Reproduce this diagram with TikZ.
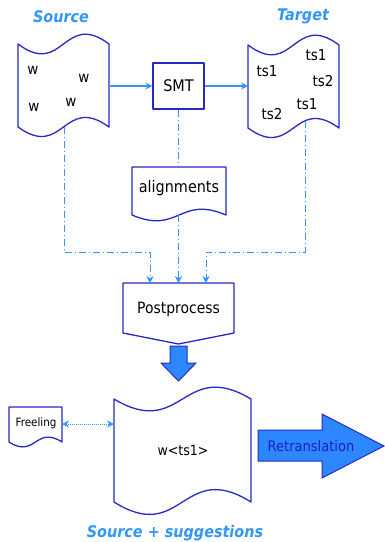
\documentclass[tikz,border=0pt]{standalone}
\usepackage{fontspec}
\setmainfont{DejaVu Sans}[FakeStretch=0.9]
\usetikzlibrary{arrows.meta}
\definecolor{outl}{RGB}{40,40,195}
\definecolor{connblue}{RGB}{51,150,250}
\definecolor{titleblue}{RGB}{51,150,250}
\definecolor{arrowfill}{RGB}{45,135,255}
\definecolor{rettext}{RGB}{30,30,200}
\tikzset{
  shapeline/.style={draw=outl, line width=1.3pt, fill=white, line join=round},
  conn/.style={draw=connblue, line width=0.9pt, dash pattern=on 7pt off 3pt on 1pt off 3pt},
  tip/.style={-{Stealth[length=7pt,width=7pt]}},
  title/.style={text=titleblue, font=\fontsize{16}{18}\selectfont\bfseries\itshape, inner sep=0pt},
  lbl/.style={font=\fontsize{#1}{#1}\selectfont, inner sep=0pt, text=black},
  bigarrow/.style={draw=outl, line width=1pt, fill=arrowfill, line join=miter},
}
\begin{document}
\begin{tikzpicture}[x=1pt,y=-1pt]
\useasboundingbox (0,0) rectangle (385,542);
% titles
\node[title] (tsrc) at (61,17) {Source};
\node[title] (ttgt) at (303,16) {Target};
\node[title] (tsug) at (175,533) {Source + suggestions};
% source document
\path[shapeline] (18,44) .. controls (63.5,78) and (63.5,10) .. (109,44) -- (109,127)
  .. controls (63.5,94) and (63.5,160) .. (18,127) -- cycle;
\node[lbl=15] (w1) at (33,70) {w};
\node[lbl=15] (w2) at (84,78) {w};
\node[lbl=15] (w3) at (34,107) {w};
\node[lbl=15] (w4) at (71,102) {w};
\coordinate (srcR) at (109,86);
\coordinate (srcB) at (64,127);
% target document
\path[shapeline] (248,45) .. controls (293.5,79) and (293.5,11) .. (339,45) -- (339,128)
  .. controls (293.5,95) and (293.5,161) .. (248,128) -- cycle;
\node[lbl=15] (t1) at (316,55) {ts1};
\node[lbl=15] (t2) at (267,71) {ts1};
\node[lbl=15] (t3) at (323,81) {ts2};
\node[lbl=15] (t4) at (307,104) {ts1};
\node[lbl=15] (t5) at (272,114) {ts2};
\coordinate (tgtL) at (248,86);
\coordinate (tgtB) at (305,121);
% SMT
\node[shapeline, line width=1.2pt, minimum width=51pt, minimum height=46pt, inner sep=0pt, lbl=16] (smt) at (178.5,86) {SMT};
% alignments
\path[shapeline] (132,167) -- (226,167) -- (226,215) .. controls (179,195) and (179,235) .. (132,215) -- cycle;
\node[lbl=16] (al) at (179,188) {alignments};
\coordinate (alT) at (178.5,167);
\coordinate (alB) at (178.5,215);
% postprocess
\path[shapeline] (123,283) -- (234,283) -- (234,333) -- (178.5,344) -- (123,333) -- cycle;
\node[lbl=15.5] (pp) at (178.5,309) {Postprocess};
\coordinate (pp1) at (150,283);
\coordinate (pp2) at (178.5,283);
\coordinate (pp3) at (206,283);
% connectors
\draw[draw=connblue, line width=1.1pt, tip] (srcR) -- (smt.west);
\draw[draw=connblue, line width=1.1pt, tip] (smt.east) -- (tgtL);
\draw[conn] (smt.south) -- (alT);
\draw[conn, tip] (alB) -- (pp2);
\draw[conn, tip] (srcB) |- (150,252) -- (pp1);
\draw[conn, tip] (tgtB) |- (206,252) -- (pp3);
% big down arrow
\path[bigarrow] (170,346) -- (187,346) -- (187,363) -- (196,363) -- (178.5,381) -- (161,363) -- (170,363) -- cycle;
% bottom document
\path[shapeline] (114,399) .. controls (182.5,440) and (182.5,358) .. (251,399) -- (251,502)
  .. controls (182.5,459) and (182.5,545) .. (114,502) -- cycle;
\node[lbl=14] (res) at (183,450) {w<ts1>};
\coordinate (resL) at (114,424);
% freeling
\path[shapeline] (9,407) -- (62,407) -- (62,442) .. controls (35.5,425) and (35.5,459) .. (9,442) -- cycle;
\node[lbl=11.5] (fr) at (36,423) {Freeling};
\coordinate (frR) at (62,424);
\draw[draw=connblue, line width=1pt, densely dotted, {Stealth[length=7pt,width=7pt]}-{Stealth[length=7pt,width=7pt]}] (frR) -- (resL);
% retranslation arrow
\path[bigarrow] (258,430) -- (322,430) -- (322,414) -- (384,446) -- (322,478) -- (322,461) -- (258,461) -- cycle;
\node[lbl=14.5, text=rettext] (ret) at (311,446) {Retranslation};
\end{tikzpicture}
\end{document}
